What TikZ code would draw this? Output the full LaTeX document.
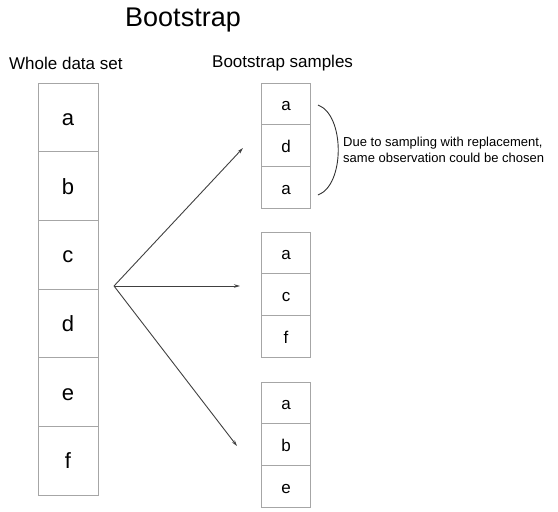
\documentclass[tikz,border=0pt]{standalone}
\usepackage{fontspec}
\setmainfont{Liberation Sans}
\usetikzlibrary{arrows.meta}
\begin{document}
\begin{tikzpicture}[x=1pt,y=-1pt,
  cellL/.style={draw=gray!70, line width=0.8pt, minimum width=60pt, minimum height=68.67pt, inner sep=0pt, text height=16.5pt, text depth=0pt, font=\fontsize{22}{24}\selectfont},
  cellR/.style={draw=gray!70, line width=0.8pt, minimum width=49pt, minimum height=41.7pt, inner sep=0pt, text height=14pt, text depth=0pt, font=\fontsize{17}{19}\selectfont},
  arr/.style={draw=black!75, line width=0.9pt, -{Stealth[length=6pt,width=3.5pt]}},
  lbl/.style={font=\fontsize{17}{19}\selectfont, inner sep=0pt}
]
\useasboundingbox (0,0) rectangle (558,512);
\node[font=\fontsize{27}{29}\selectfont, inner sep=0pt] (title) at (183,20) {Bootstrap};
\node[lbl, anchor=west] (whole) at (9,63) {Whole data set};
\node[lbl, anchor=west] (bsam) at (212,63) {Bootstrap samples};
% left column
\foreach \t [count=\i] in {a,b,c,d,e,f} {
  \node[cellL] (L\i) at (68, {83+68.67*(\i-0.5)}) {\t};
}
% right groups
\foreach \t [count=\i] in {a,d,a} {
  \node[cellR] (A\i) at (286, {83+41.7*(\i-0.5)}) {\t};
}
\foreach \t [count=\i] in {a,c,f} {
  \node[cellR] (B\i) at (286, {232+41.7*(\i-0.5)}) {\t};
}
\foreach \t [count=\i] in {a,b,e} {
  \node[cellR] (C\i) at (286, {382+41.7*(\i-0.5)}) {\t};
}
% arrows
\coordinate (o) at (114,286);
\coordinate (e1) at (243,148);
\coordinate (e2) at (240,286);
\coordinate (e3) at (237,446);
\draw[arr] (o) -- (e1);
\draw[arr] (o) -- (e2);
\draw[arr] (o) -- (e3);
% bracket
\coordinate (b1) at (318,105);
\coordinate (b2) at (318,195);
\draw[black!80, line width=0.9pt] (b1) .. controls (345,115) and (345,185) .. (b2);
\node[anchor=west, align=left, inner sep=0pt, font=\fontsize{13}{16}\selectfont] (note) at (343,150) {Due to sampling with replacement,\\same observation could be chosen};
\end{tikzpicture}
\end{document}
